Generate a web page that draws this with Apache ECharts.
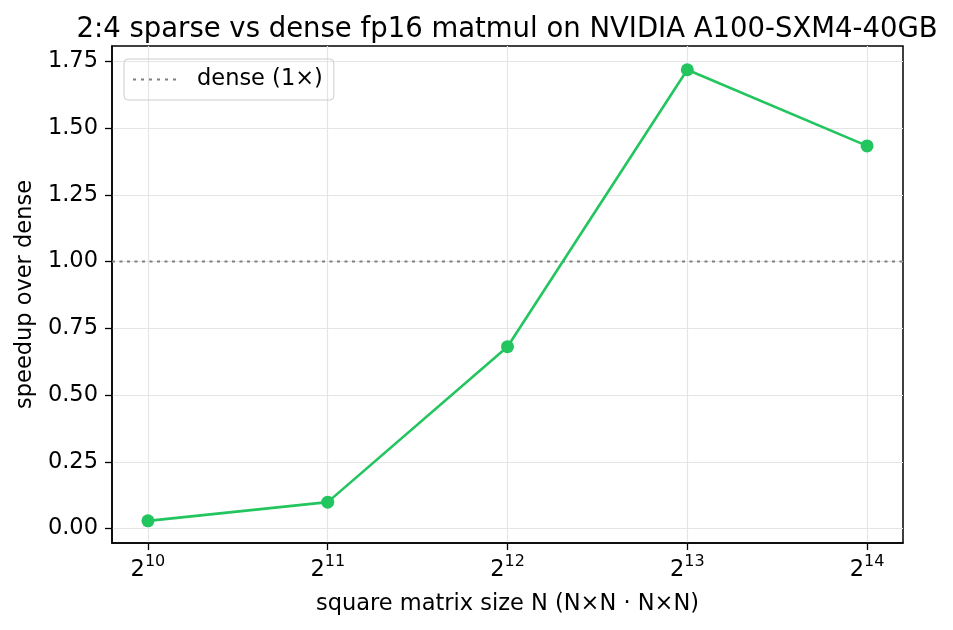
<!DOCTYPE html>
<html>
<head>
<meta charset="utf-8">
<script src="https://cdn.jsdelivr.net/npm/echarts@6/dist/echarts.min.js"></script>
<style>
  html, body { margin: 0; padding: 0; background: #fff; }
  #chart { width: 953px; height: 630px; }
</style>
</head>
<body>
<div id="chart"></div>
<script>
// matrix size exponents (N = 2^k)
var exponents = [10, 11, 12, 13, 14];
var speedup = [0.029, 0.099, 0.681, 1.718, 1.433];
var yTicks = [0, 0.25, 0.5, 0.75, 1.0, 1.25, 1.5, 1.75];
var denseLevel = 1.0;

var chart = echarts.init(document.getElementById('chart'));

var FONT = 'DejaVu Sans';
var pts = [];
for (var i = 0; i < exponents.length; i++) {
  pts.push([exponents[i], speedup[i]]);
}

// dotted legend icon (six short dashes)
var dotIcon = 'path://M0,0h3v2h-3z M8,0h3v2h-3z M16,0h3v2h-3z M24,0h3v2h-3z M32,0h3v2h-3z M40,0h3v2h-3z';

var option = {
  animation: false,
  textStyle: { fontFamily: FONT },
  title: {
    text: '2:4 sparse vs dense fp16 matmul on NVIDIA A100-SXM4-40GB',
    left: 502,
    textAlign: 'center',
    top: 11,
    textStyle: { fontFamily: FONT, fontSize: 27.5, fontWeight: 'normal', color: '#000' }
  },
  legend: {
    data: ['dense (1×)'],
    left: 124,
    top: 59,
    icon: dotIcon,
    padding: [9, 11, 9, 9],
    borderColor: '#cccccc',
    borderWidth: 1,
    borderRadius: 4,
    itemWidth: 45,
    itemHeight: 2,
    textStyle: { fontFamily: FONT, fontSize: 22.5, color: '#000', padding: [0, 0, 0, 15] }
  },
  grid: {
    left: 112,
    right: 50,
    top: 46,
    bottom: 87,
    show: true,
    borderColor: '#000',
    borderWidth: 1.5
  },
  xAxis: {
    type: 'value',
    min: 9.8,
    max: 14.2,
    name: 'square matrix size N (N×N · N×N)',
    nameLocation: 'middle',
    nameGap: 50,
    nameTextStyle: { fontFamily: FONT, fontSize: 22.5, color: '#000' },
    axisLine: { show: true, onZero: false, lineStyle: { color: '#000', width: 1.5 } },
    axisTick: { show: true, inside: false, length: 7, customValues: exponents, lineStyle: { color: '#000', width: 1.3 } },
    axisLabel: {
      customValues: exponents,
      margin: 11,
      formatter: function (v) { return '{b|2}{s|' + v + '}'; },
      rich: {
        b: { fontFamily: FONT, fontSize: 22.5, color: '#000', verticalAlign: 'bottom' },
        s: { fontFamily: FONT, fontSize: 16, color: '#000', verticalAlign: 'top', padding: [0, 0, 12, 0] }
      }
    },
    splitLine: { show: true, lineStyle: { color: '#e5e5e5', width: 1.2 } }
  },
  yAxis: {
    type: 'value',
    min: -0.054,
    max: 1.807,
    name: 'speedup over dense',
    nameLocation: 'middle',
    nameGap: 71,
    nameTextStyle: { fontFamily: FONT, fontSize: 22.5, color: '#000' },
    axisLine: { show: true, onZero: false, lineStyle: { color: '#000', width: 1.5 } },
    axisTick: { show: true, inside: false, length: 7, customValues: yTicks, lineStyle: { color: '#000', width: 1.3 } },
    axisLabel: {
      customValues: yTicks,
      fontFamily: FONT,
      fontSize: 22.5,
      color: '#000',
      margin: 14,
      formatter: function (v) { return v.toFixed(2); }
    },
    splitLine: { show: true, lineStyle: { color: '#e5e5e5', width: 1.2 } }
  },
  series: [
    {
      name: 'dense (1×)',
      type: 'line',
      data: [[9.8, denseLevel], [14.2, denseLevel]],
      symbol: 'none',
      lineStyle: { color: '#808080', width: 2.2, type: [3, 4.5] },
      itemStyle: { color: '#808080' },
      z: 1
    },
    {
      name: 'speedup',
      type: 'line',
      data: pts,
      symbol: 'circle',
      symbolSize: 13,
      lineStyle: { color: '#22c55e', width: 2.6 },
      itemStyle: { color: '#22c55e' },
      z: 3
    }
  ]
};

chart.setOption(option);
</script>
</body>
</html>
